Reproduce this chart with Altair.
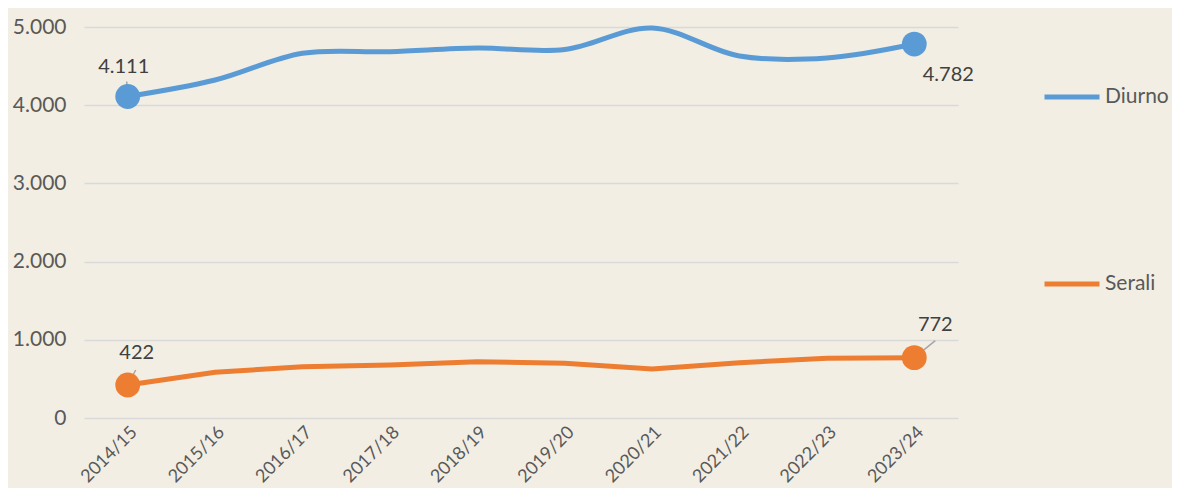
import altair as alt
import pandas as pd

anni = ["2014/15", "2015/16", "2016/17", "2017/18", "2018/19",
        "2019/20", "2020/21", "2021/22", "2022/23", "2023/24"]
diurno = [4111, 4322, 4664, 4684, 4731, 4712, 4987, 4629, 4604, 4782]
serali = [422, 584, 656, 678, 720, 699, 627, 707, 763, 772]
serie = ["Diurno", "Serali"]
colori = ["#5B9BD5", "#ED7D31"]

rows = []
for a, v in zip(anni, diurno):
    rows.append({"anno": a, "valore": v, "serie": "Diurno"})
for a, v in zip(anni, serali):
    rows.append({"anno": a, "valore": v, "serie": "Serali"})
df = pd.DataFrame(rows)
df["label"] = df["valore"].map(lambda v: f"{v:,}".replace(",", "."))

FONT = "Lato"
TXT = "#595959"

x_enc = alt.X("anno:N", sort=anni, scale=alt.Scale(type="point", padding=0.5),
              axis=alt.Axis(title=None, labelAngle=-45, labelAlign="right",
                            labelBaseline="top", labelFontSize=18, labelColor=TXT,
                            labelFont=FONT, domain=False, ticks=False, grid=False,
                            labelPadding=5))
y_enc = alt.Y("valore:Q", scale=alt.Scale(domain=[0, 5000], nice=False),
              axis=alt.Axis(title=None, values=[0, 1000, 2000, 3000, 4000, 5000],
                            labelExpr="replace(format(datum.value, ','), ',', '.')",
                            labelFontSize=21, labelColor=TXT, labelFont=FONT,
                            domain=False, ticks=False, grid=True,
                            gridColor="#D9D9D9", gridWidth=1.5, labelPadding=18))
color_enc = alt.Color("serie:N", scale=alt.Scale(domain=serie, range=colori),
                      legend=alt.Legend(title=None, orient="none", legendX=958,
                                        legendY=40, symbolType="stroke",
                                        symbolSize=3025, symbolStrokeWidth=5,
                                        labelFontSize=21, labelColor=TXT,
                                        labelFont=FONT, rowPadding=147,
                                        labelOffset=3))

base = alt.Chart(df)

line_d = base.transform_filter(alt.datum.serie == "Diurno").mark_line(
    strokeWidth=5, interpolate="catmull-rom", clip=False
).encode(x=x_enc, y=y_enc, color=color_enc)

line_s = base.transform_filter(alt.datum.serie == "Serali").mark_line(
    strokeWidth=5, clip=False
).encode(x=x_enc, y=y_enc, color=color_enc)

ends = base.transform_filter(
    (alt.datum.anno == anni[0]) | (alt.datum.anno == anni[-1])
)
points = ends.mark_circle(size=615, opacity=1).encode(
    x=x_enc, y=y_enc, color=alt.Color("serie:N", scale=alt.Scale(domain=serie, range=colori), legend=None)
)

def leader(serie_name, anno, dx, dy):
    return base.transform_filter(
        (alt.datum.serie == serie_name) & (alt.datum.anno == anno)
    ).mark_rule(color="#A6A6A6", strokeWidth=1.5, x2Offset=dx, y2Offset=dy).encode(
        x=x_enc, y=y_enc, x2="anno:N", y2="valore:Q"
    )

def label(serie_name, anno, dx, dy):
    return base.transform_filter(
        (alt.datum.serie == serie_name) & (alt.datum.anno == anno)
    ).mark_text(dx=dx, dy=dy, fontSize=20, color="#404040", font=FONT).encode(
        x=x_enc, y=y_enc, text="label:N"
    )

layers = [
    line_d, line_s,
    leader("Diurno", anni[0], -1, -15),
    leader("Serali", anni[0], 8, -15),
    leader("Serali", anni[-1], 21, -17),
    points,
    label("Diurno", anni[0], -4, -30),
    label("Diurno", anni[-1], 34, 31),
    label("Serali", anni[0], 9, -32),
    label("Serali", anni[-1], 21, -33),
]

chart = alt.layer(*layers).properties(
    width=874, height=391,
    background="#F2EEE4",
    autosize=alt.AutoSizeParams(type="none"),
    padding={"left": 76, "top": 19, "right": 214, "bottom": 70},
).configure_view(stroke=None)

chart.save("out.html", embed_options={"renderer": "svg", "actions": False})
